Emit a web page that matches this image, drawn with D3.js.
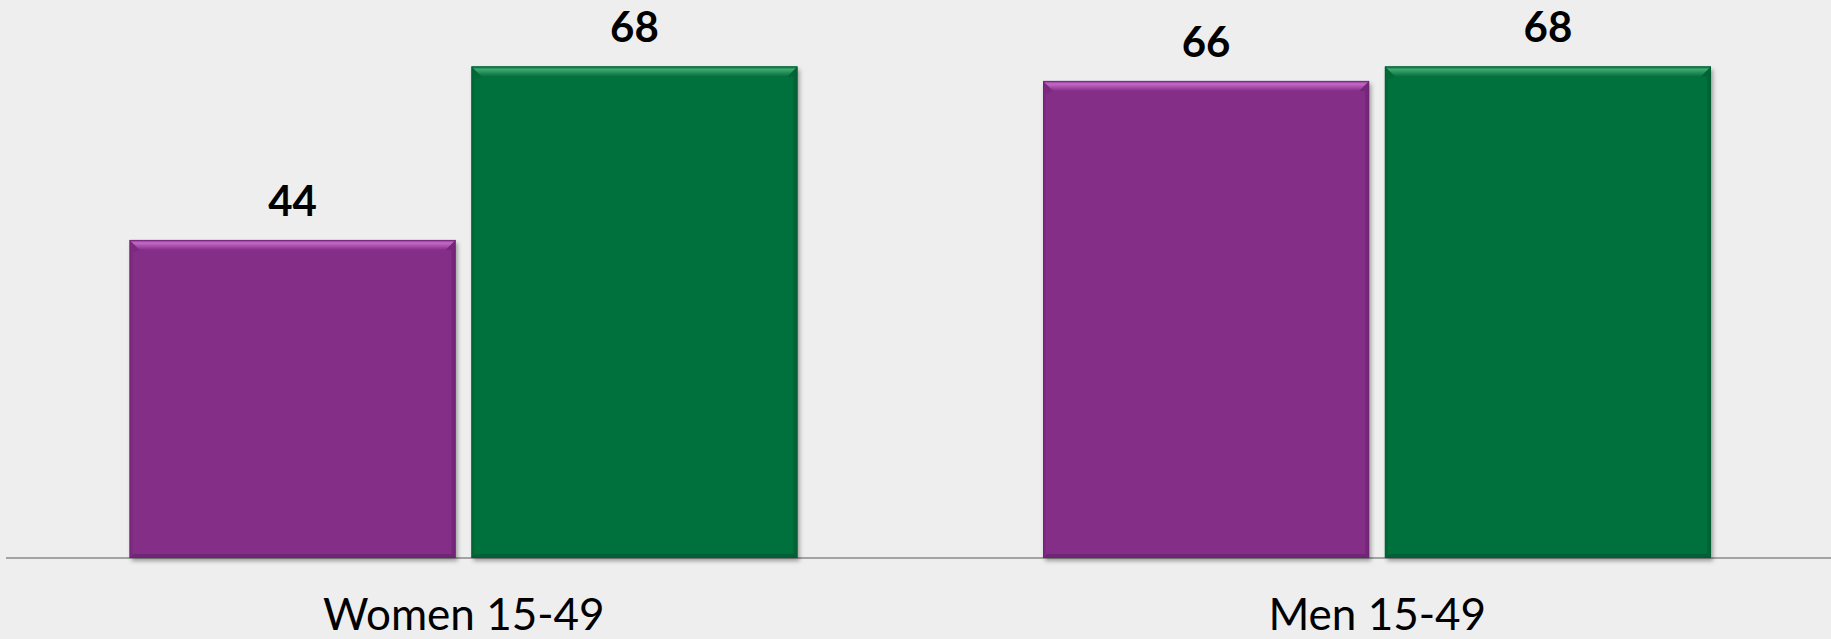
<!DOCTYPE html>
<html>
<head>
<meta charset="utf-8">
<script src="https://cdn.jsdelivr.net/npm/d3@7"></script>
<style>
  body { margin: 0; background: #eeeeee; }
  svg { display: block; }
  .value-label { font-family: Lato, "Open Sans", sans-serif; font-weight: bold; font-size: 42px; fill: #000; }
  .cat-label { font-family: Lato, "Open Sans", sans-serif; font-size: 44px; fill: #000; }
</style>
</head>
<body>
<div class="chart"></div>
<script>
// Data
const categories = ['Women 15-49', 'Men 15-49'];
const seriesNames = ['Series A', 'Series B'];
const seriesValues = {
  'Series A': [44, 66],
  'Series B': [68, 68]
};
const seriesColors = {
  'Series A': { base: '#842e88', light: '#c46ac8', dark: '#6a2270' },
  'Series B': { base: '#06703d', light: '#3ea872', dark: '#045a30' }
};

// Dimensions
const W = 1831, H = 639;
const baseY = 558;

const svg = d3.select('.chart')
  .append('svg')
  .attr('width', W)
  .attr('height', H);

svg.append('rect').attr('width', W).attr('height', H).attr('fill', '#eeeeee');

const defs = svg.append('defs');
const shadow = defs.append('filter').attr('id', 'shadow')
  .attr('x', '-5%').attr('y', '-5%').attr('width', '115%').attr('height', '115%');
shadow.append('feDropShadow')
  .attr('dx', 2).attr('dy', 3).attr('stdDeviation', 2)
  .attr('flood-color', '#000').attr('flood-opacity', 0.35);

// Scales
const x0 = d3.scaleBand().domain(categories).range([7, 1834]).padding(0);
const x1 = d3.scaleBand().domain(seriesNames)
  .range([122.5, 790.5]).paddingInner(0.046).paddingOuter(0);
const y = d3.scaleLinear().domain([0, 70]).range([baseY, 52]);

// Flatten data
const bars = [];
categories.forEach((c, i) => {
  seriesNames.forEach(s => bars.push({ cat: c, series: s, value: seriesValues[s][i] }));
});

// Axis line
const xAxis = d3.axisBottom(x0).tickSize(0).tickFormat('');
const axisG = svg.append('g')
  .attr('transform', `translate(0, ${baseY})`)
  .call(xAxis);
axisG.select('.domain').attr('stroke', '#a3a3a3').attr('stroke-width', 2)
  .attr('d', `M6,0H${W}`);

// Bars
const bevel = 10;
const barG = svg.append('g').selectAll('g.bar')
  .data(bars)
  .join('g')
  .attr('class', 'bar')
  .attr('transform', d => `translate(${x0(d.cat) + x1(d.series)}, 0)`);

barG.append('rect')
  .attr('x', 0)
  .attr('y', d => y(d.value))
  .attr('width', x1.bandwidth())
  .attr('height', d => baseY - y(d.value))
  .attr('fill', d => seriesColors[d.series].base)
  .attr('filter', 'url(#shadow)');

// gradient for top bevel
seriesNames.forEach(s => {
  const g = defs.append('linearGradient').attr('id', 'top-' + s.replace(/\s/g, ''))
    .attr('x1', 0).attr('y1', 0).attr('x2', 0).attr('y2', 1);
  g.append('stop').attr('offset', '0%').attr('stop-color', seriesColors[s].base);
  g.append('stop').attr('offset', '30%').attr('stop-color', seriesColors[s].light);
  g.append('stop').attr('offset', '100%').attr('stop-color', seriesColors[s].base);
});

const bw = x1.bandwidth();
// top bevel
barG.append('path')
  .attr('d', d => {
    const t = y(d.value);
    return `M0,${t}H${bw}L${bw - bevel},${t + bevel}H${bevel}Z`;
  })
  .attr('fill', d => `url(#top-${d.series.replace(/\s/g, '')})`);
// right bevel
barG.append('path')
  .attr('d', d => {
    const t = y(d.value);
    return `M${bw},${t}V${baseY}L${bw - 4},${baseY - 4}V${t + bevel}L${bw - bevel},${t + bevel}Z`;
  })
  .attr('fill', d => seriesColors[d.series].dark)
  .attr('opacity', 0.6);
// bottom bevel
barG.append('path')
  .attr('d', d => `M0,${baseY}H${bw}L${bw - 4},${baseY - 4}H4Z`)
  .attr('fill', d => seriesColors[d.series].dark)
  .attr('opacity', 0.7);
// left bevel
barG.append('path')
  .attr('d', d => {
    const t = y(d.value);
    return `M0,${t}L${bevel},${t + bevel}L3,${t + bevel + 3}V${baseY - 3}L0,${baseY}Z`;
  })
  .attr('fill', d => seriesColors[d.series].dark)
  .attr('opacity', 0.35);
// thin outline
barG.append('rect')
  .attr('x', 0.5)
  .attr('y', d => y(d.value) + 0.5)
  .attr('width', bw - 1)
  .attr('height', d => baseY - y(d.value) - 1)
  .attr('fill', 'none')
  .attr('stroke', d => seriesColors[d.series].dark)
  .attr('stroke-opacity', 0.6);

// Value labels
barG.append('text')
  .attr('class', 'value-label')
  .attr('x', bw / 2)
  .attr('y', d => y(d.value) - 24)
  .attr('text-anchor', 'middle')
  .text(d => d.value);

// Category labels
svg.append('g').selectAll('text')
  .data(categories)
  .join('text')
  .attr('class', 'cat-label')
  .attr('x', d => x0(d) + x0.bandwidth() / 2)
  .attr('y', 630)
  .attr('text-anchor', 'middle')
  .text(d => d);
</script>
</body>
</html>
